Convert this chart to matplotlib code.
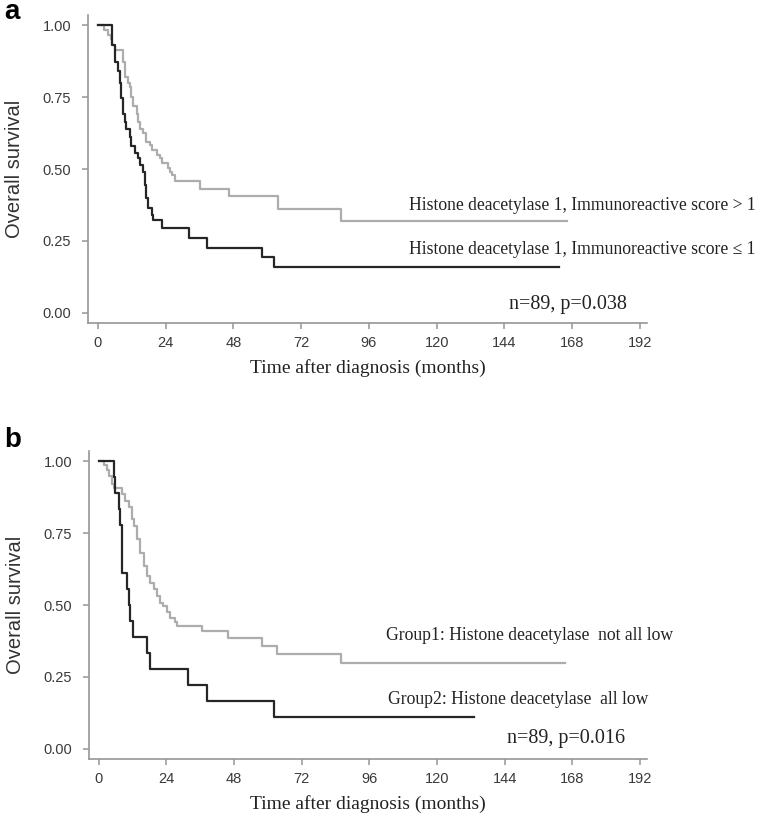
import matplotlib
matplotlib.use('Agg')
import matplotlib.pyplot as plt

# Kaplan-Meier steps (months, survival)
# panel a: HDAC1 immunoreactive score > 1 (grey) and <= 1 (black)
a_high_t = [0, 2.0, 3.6, 4.5, 5.0, 6.0, 8.9, 9.5, 10.7, 11.3, 11.9, 12.5, 13.7, 14.3, 14.8,
            16.0, 17.2, 18.4, 19.0, 20.8, 22.0, 22.6, 24.9, 25.5, 26.1, 27.3, 36.2, 46.3,
            63.8, 86.1, 166.2]
a_high_s = [1.0, 0.983, 0.966, 0.95, 0.93, 0.913, 0.873, 0.82, 0.80, 0.786, 0.75, 0.72, 0.69,
            0.665, 0.64, 0.625, 0.595, 0.584, 0.567, 0.55, 0.537, 0.52, 0.503, 0.49, 0.48,
            0.457, 0.43, 0.405, 0.361, 0.318, 0.318]
a_low_t = [0, 5.1, 5.9, 7.1, 7.7, 8.3, 8.9, 9.5, 10.1, 11.3, 11.9, 13.1, 14.3, 14.8, 16.0,
           16.6, 17.2, 17.8, 19.0, 19.6, 22.6, 32.1, 38.6, 58.2, 62.4, 163.3]
a_low_s = [1.0, 0.93, 0.873, 0.84, 0.80, 0.745, 0.69, 0.665, 0.64, 0.61, 0.58, 0.555, 0.537,
           0.515, 0.49, 0.445, 0.40, 0.364, 0.34, 0.324, 0.295, 0.262, 0.226, 0.194, 0.16, 0.16]

# panel b: Group1 not all low (grey), Group2 all low (black)
b_g1_t = [0, 1.8, 2.9, 3.6, 4.7, 5.3, 8.2, 9.4, 10.6, 11.8, 12.4, 13.5, 14.7, 15.9, 17.1,
          18.2, 19.4, 20.6, 21.8, 22.9, 24.1, 25.3, 27.0, 27.6, 36.5, 46.0, 57.9, 63.2,
          85.8, 165.5]
b_g1_s = [1.0, 0.986, 0.97, 0.948, 0.92, 0.905, 0.885, 0.86, 0.84, 0.80, 0.775, 0.73, 0.68,
          0.635, 0.60, 0.578, 0.555, 0.53, 0.508, 0.497, 0.474, 0.456, 0.44, 0.427, 0.408,
          0.385, 0.356, 0.33, 0.30, 0.30]
b_g2_t = [0, 5.3, 5.9, 7.1, 7.6, 8.2, 10.0, 10.6, 11.2, 12.2, 17.1, 18.1, 31.7, 38.3, 62.0, 133.0]
b_g2_s = [1.0, 0.944, 0.889, 0.833, 0.778, 0.611, 0.556, 0.5, 0.444, 0.389, 0.333, 0.278,
          0.222, 0.167, 0.111, 0.111]

x_ticks = [0, 24, 48, 72, 96, 120, 144, 168, 192]
y_ticks = [0.0, 0.25, 0.5, 0.75, 1.0]
y_tick_labels = ['0.00', '0.25', '0.50', '0.75', '1.00']

DARK = '#262626'
GREY = '#adadad'
AXIS = '#969696'
SERIF = ['Liberation Serif', 'DejaVu Serif']
SANS = ['Liberation Sans', 'DejaVu Sans']


def draw_panel(ax, grey_t, grey_s, dark_t, dark_s, notes, stat_text, stat_pos):
    ax.step(grey_t, grey_s, where='post', color=GREY, lw=1.6)
    ax.step(dark_t, dark_s, where='post', color=DARK, lw=1.6)

    ax.set_xlim(-3.5, 194.5)
    ax.set_ylim(-0.035, 1.035)
    ax.set_xticks(x_ticks)
    ax.set_xticklabels([str(t) for t in x_ticks], family=SANS, fontsize=10.5, color='#3a3a3a')
    ax.set_yticks(y_ticks)
    ax.set_yticklabels(y_tick_labels, family=SANS, fontsize=10.5, color='#3a3a3a')
    ax.tick_params(axis='both', direction='out', length=4, width=1.1, color=AXIS)
    ax.tick_params(axis='y', pad=8)
    ax.tick_params(axis='x', pad=5)

    for side in ['top', 'right']:
        ax.spines[side].set_visible(False)
    for side in ['left', 'bottom']:
        ax.spines[side].set_color(AXIS)
        ax.spines[side].set_linewidth(1.2)

    ax.set_ylabel('Overall survival', family=SANS, fontsize=14.5, color='#333333')
    ax.yaxis.set_label_coords(-0.132, 0.5)
    ax.yaxis.label.set_va('center')
    ax.set_xlabel('Time after diagnosis (months)', family=SERIF, fontsize=14, color='#222222')
    ax.xaxis.set_label_coords(0.5, -0.145)
    ax.xaxis.label.set_va('center')

    for x, y, txt, ha in notes:
        ax.text(x, y, txt, ha=ha, va='center', family=SERIF, fontsize=12.7,
                color='#222222', clip_on=False)
    ax.text(stat_pos[0], stat_pos[1], stat_text, ha='right', va='center', family=SERIF,
            fontsize=14.5, color='#222222', clip_on=False)


fig = plt.figure(figsize=(7.6, 8.33), dpi=100)
ax_a = fig.add_axes([0.1158, 0.6122, 0.7355, 0.3698])
ax_b = fig.add_axes([0.1171, 0.0888, 0.7342, 0.3698])

draw_panel(ax_a, a_high_t, a_high_s, a_low_t, a_low_s,
           [(233.0, 0.375, 'Histone deacetylase 1, Immunoreactive score > 1', 'right'),
            (233.0, 0.219, 'Histone deacetylase 1, Immunoreactive score \u2264 1', 'right')],
           'n=89, p=0.038', (187.4, 0.03))

draw_panel(ax_b, b_g1_t, b_g1_s, b_g2_t, b_g2_s,
           [(102.0, 0.394, 'Group1: Histone deacetylase  not all low', 'left'),
            (102.5, 0.171, 'Group2: Histone deacetylase  all low', 'left')],
           'n=89, p=0.016', (186.7, 0.035))

fig.text(0.006, 1 - 12 / 833, 'a', family=SANS, fontsize=20, fontweight='bold', va='center')
fig.text(0.006, 1 - 440 / 833, 'b', family=SANS, fontsize=20, fontweight='bold', va='center')

fig.savefig('out.png', dpi=100)
